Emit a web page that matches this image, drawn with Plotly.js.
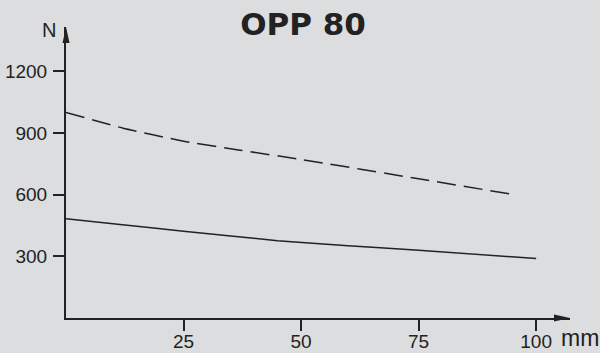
<!DOCTYPE html>
<html>
<head>
<meta charset="utf-8">
<script src="https://cdn.plot.ly/plotly-3.0.1.min.js"></script>
<style>html,body{margin:0;padding:0;background:#dcddde;}</style>
</head>
<body>
<div id="chart" style="width:600px;height:353px;"></div>
<script>
// Data
const solidX = [0, 12, 25, 45, 60, 75, 100];
const solidY = [482, 453, 422, 376, 351, 330, 289];
const dashX = [0, 12, 25, 37, 50, 75, 95.3];
const dashY = [1000, 924, 860, 816, 771, 677, 600];
const xTicks = [25, 50, 75, 100];
const yTicks = [300, 600, 900, 1200];
const titleText = "OPP 80";
const xUnit = "mm";
const yUnit = "N";

const ink = "#222222";
const bg = "#dcddde";

const traces = [
  {x: solidX, y: solidY, mode: "lines", line: {color: ink, width: 1.5, shape: "spline", smoothing: 0.6}, hoverinfo: "skip"},
  {x: dashX, y: dashY, mode: "lines", line: {color: ink, width: 1.5, dash: "19px,8px", shape: "spline", smoothing: 0.6}, hoverinfo: "skip"}
];

const axisCommon = {
  showline: true, linewidth: 2, linecolor: ink,
  showgrid: false, zeroline: false,
  ticks: "outside", ticklen: 11, tickwidth: 2, tickcolor: ink,
  tickfont: {family: "Liberation Sans, Arial, sans-serif", size: 19, color: ink},
  fixedrange: true
};

const layout = {
  width: 600, height: 353,
  paper_bgcolor: bg, plot_bgcolor: bg,
  margin: {l: 66, r: 30, t: 27, b: 35},
  showlegend: false,
  title: {text: "<b>" + titleText + "</b>", font: {family: "DejaVu Sans, sans-serif", size: 31, color: ink},
          x: 0.505, xanchor: "center", y: 1 - 24/353, yanchor: "middle"},
  xaxis: Object.assign({}, axisCommon, {range: [0, 107.2], tickvals: xTicks, ticktext: xTicks.map(String), ticklabelstandoff: -6}),
  yaxis: Object.assign({}, axisCommon, {range: [0, 1415], tickvals: yTicks, ticktext: yTicks.map(String), ticklabelstandoff: 2}),
  shapes: [
    {type: "path", xref: "paper", yref: "paper", xsizemode: "pixel", ysizemode: "pixel",
     xanchor: 0, yanchor: 1, path: "M -3.5 -16 L 0 0 L 3.5 -16 Z", fillcolor: ink, line: {width: 0}},
    {type: "path", xref: "paper", yref: "paper", xsizemode: "pixel", ysizemode: "pixel",
     xanchor: 1, yanchor: 0, path: "M -16 -3.5 L 0 0 L -16 3.5 Z", fillcolor: ink, line: {width: 0}}
  ],
  annotations: [
    {text: yUnit, xref: "paper", yref: "paper", x: 0, y: 1, xanchor: "right", yanchor: "middle",
     xshift: -8, yshift: -3, showarrow: false, font: {family: "Liberation Sans, Arial, sans-serif", size: 20, color: ink}},
    {text: xUnit, xref: "paper", yref: "paper", x: 1, y: 0, xanchor: "left", yanchor: "middle",
     xshift: -11, yshift: -20, showarrow: false, font: {family: "Liberation Sans, Arial, sans-serif", size: 23, color: ink}}
  ]
};

Plotly.newPlot("chart", traces, layout, {displayModeBar: false, staticPlot: true});
</script>
</body>
</html>
